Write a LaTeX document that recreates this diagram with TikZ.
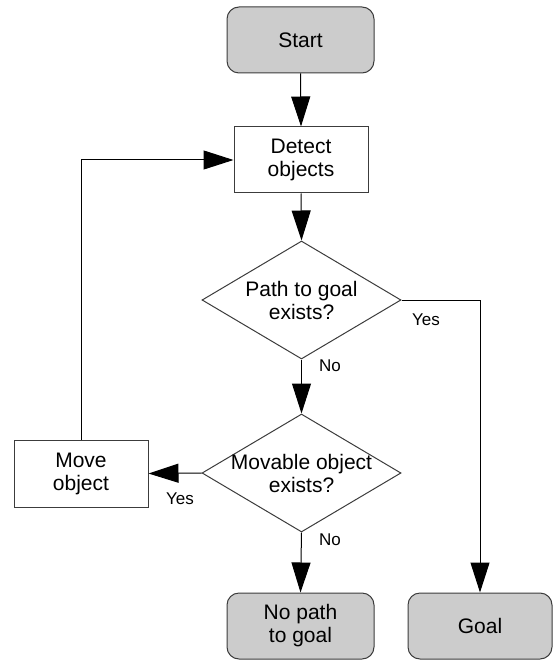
\documentclass[tikz,border=0pt]{standalone}
\usepackage{fontspec}
\setmainfont{Liberation Sans}
\usetikzlibrary{arrows.meta,shapes.geometric}
\definecolor{termfill}{RGB}{204,204,204}
\definecolor{edgegray}{RGB}{60,60,60}
\begin{document}
\begin{tikzpicture}[x=1pt,y=-1pt,
  base/.style={draw=edgegray, line width=1pt, align=center, inner sep=0pt,
    font=\fontsize{21}{23}\selectfont},
  term/.style={base, rounded corners=12pt, fill=termfill,
    minimum width=147pt, minimum height=66pt},
  proc/.style={base, fill=white, minimum width=134pt, minimum height=66pt},
  dec/.style={base, diamond, fill=white, minimum width=199pt, minimum height=118pt},
  dectext/.style={align=center, inner sep=0pt, font=\fontsize{21}{23}\selectfont},
  lbl/.style={inner sep=0pt, font=\fontsize{17}{19}\selectfont},
  conn/.style={draw=black, line width=1pt, -{Triangle[length=30pt,width=19pt]}},
  plain/.style={draw=black, line width=1pt}
]
\useasboundingbox (0,0) rectangle (553,660);

\node[term] (start) at (300.5,40) {Start};
\node[proc] (detect) at (301,160) {Detect\\objects};
\node[dec] (d1) at (301.5,300) {};
\node[dectext] (d1t) at (301.5,300) {Path to goal\\exists?};
\node[dec] (d2) at (301.5,473) {};
\node[dectext] (d2t) at (301.5,473) {Movable object\\exists?};
\node[proc, minimum height=67pt] (move) at (81,473.5) {Move\\object};
\node[term] (nopath) at (300.5,626) {No path\\to goal};
\node[term, minimum width=144pt] (goal) at (480,626) {Goal};

\draw[conn] (start.south) -- (detect.north);
\draw[conn] (detect.south) -- (d1.north);
\draw[conn] (d1.south) -- (d2.north);
\draw[conn] (d1.east) -| (goal.north);
\draw[conn] (d2.west) -- (move.east);
\draw[conn] (d2.south) -- (nopath.north);
\draw[conn] (move.north) |- (detect.west);

\node[lbl] (yes1) at (426,320) {Yes};
\node[lbl] (no1) at (330,366) {No};
\node[lbl] (yes2) at (180,499) {Yes};
\node[lbl] (no2) at (330,540) {No};
\end{tikzpicture}
\end{document}
